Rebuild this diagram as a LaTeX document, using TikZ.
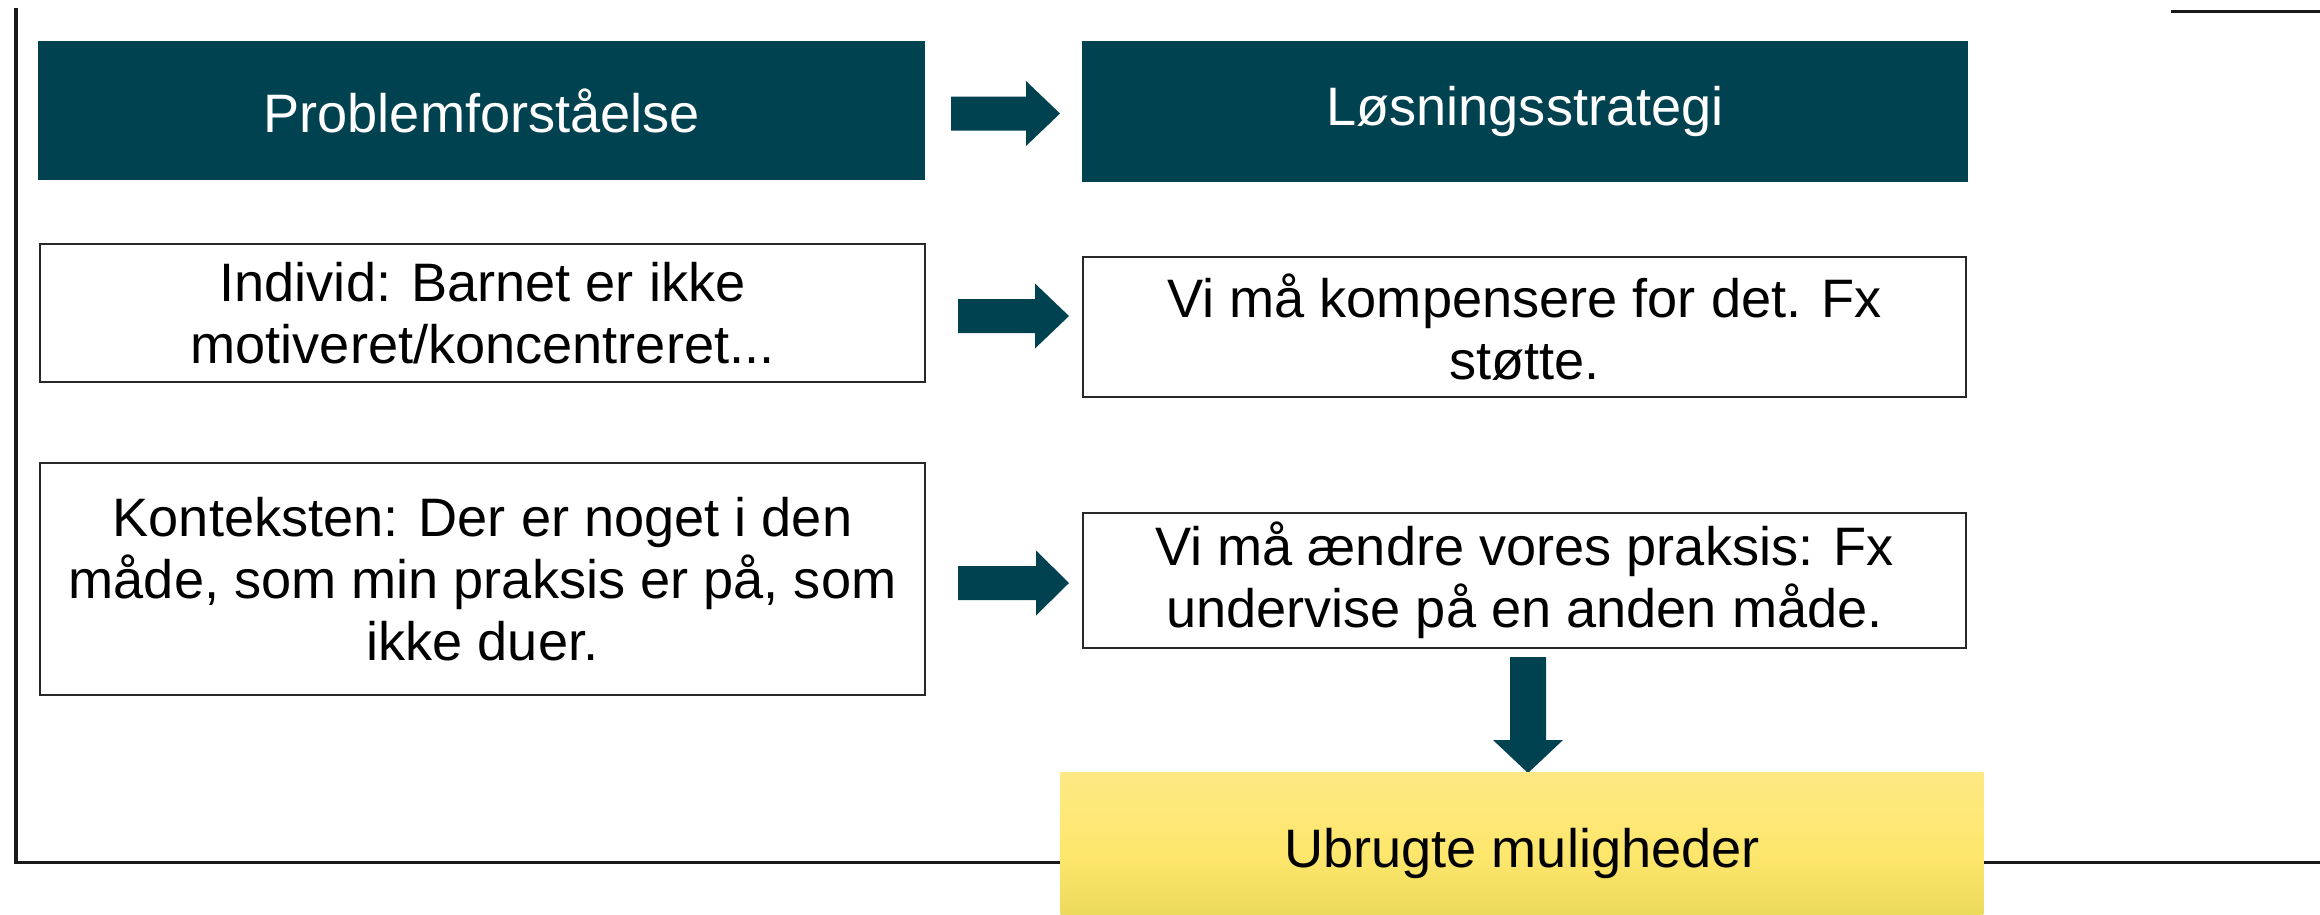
\documentclass[tikz,border=0pt]{standalone}
\usepackage{fontspec}
\setmainfont{Liberation Sans}
\definecolor{teal}{RGB}{0,66,80}
\definecolor{ytop}{RGB}{253,232,132}
\definecolor{ymid}{RGB}{254,231,108}
\definecolor{ybot}{RGB}{230,214,88}
\definecolor{edge}{RGB}{40,40,40}
\newcommand{\myRarrow}[4]{%
  \fill[teal] (#1,{#4-17}) -- (#2,{#4-17}) -- (#2,{#4-32.5}) -- (#3,#4) -- (#2,{#4+32.5}) -- (#2,{#4+17}) -- (#1,{#4+17}) -- cycle;}
\tikzset{
  txt/.style={font=\fontsize{15.4pt}{17.6pt}\selectfont, align=center, inner sep=0pt},
  header/.style={txt, fill=teal, text=white},
  plainbox/.style={txt, draw=edge, line width=0.024cm, fill=white},
  frame/.style={line width=0.03cm, black!90},
}
\begin{document}
\begin{tikzpicture}[x=0.01cm, y=-0.01cm]
\clip (0,0) rectangle (2320,914);
\fill[white] (0,0) rectangle (2320,914);
% frame lines
\coordinate (ftop) at (16,8);
\coordinate (fcorner) at (16,862);
\coordinate (fend) at (2320,862);
\draw[frame] (ftop) -- (fcorner) -- (fend);
\coordinate (tl) at (2171,11);
\coordinate (tr) at (2320,11);
\draw[frame] (tl) -- (tr);
% headers
\node[header, minimum width=8.865cm, minimum height=1.39cm] (h1) at (481.75,110.5) {Problemforståelse};
\node[header, minimum width=8.86cm, minimum height=1.41cm] (h2) at (1525,111.5) {Løsningsstrategi};
% boxes
\node[plainbox, minimum width=8.85cm, minimum height=1.38cm] (b1) at (482.5,313) {Individ: Barnet er ikke\\motiveret/koncentreret...};
\node[plainbox, minimum width=8.83cm, minimum height=1.40cm] (b2) at (1524.5,327) {Vi må kompensere for det. Fx\\støtte.};
\node[plainbox, minimum width=8.85cm, minimum height=2.32cm] (b3) at (482.5,579) {Konteksten: Der er noget i den\\måde, som min praksis er på, som\\ikke duer.};
\node[plainbox, minimum width=8.83cm, minimum height=1.35cm] (b4) at (1524.5,580.5) {Vi må ændre vores praksis: Fx\\undervise på en anden måde.};
% block arrows
\myRarrow{951}{1026}{1060}{113.5}
\myRarrow{958}{1035}{1069}{316}
\myRarrow{958}{1036}{1069}{583}
\fill[teal] (1510,657) -- (1546,657) -- (1546,740) -- (1563,740) -- (1528,773) -- (1493,740) -- (1510,740) -- cycle;
% yellow box
\node[txt, top color=ytop, bottom color=ybot, middle color=ymid, minimum width=9.22cm, minimum height=1.6cm] (y) at (1522,853) {Ubrugte muligheder};
\end{tikzpicture}
\end{document}
